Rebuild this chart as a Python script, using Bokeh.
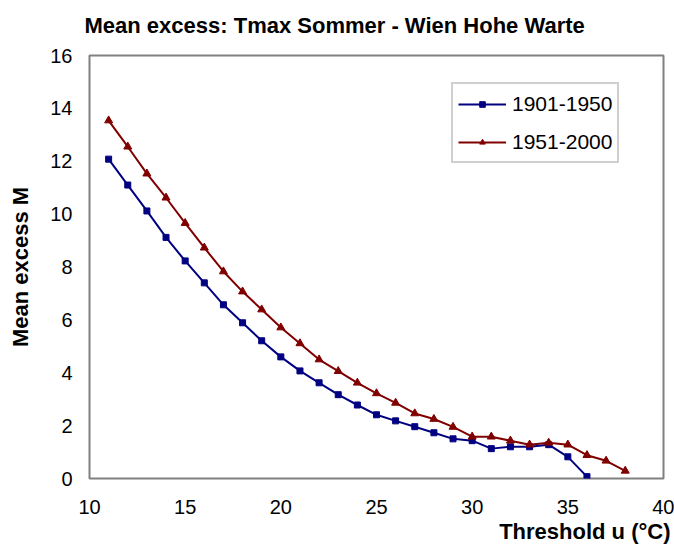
from bokeh.plotting import figure
from bokeh.models import Range1d, FixedTicker, Title, Legend, LegendItem
from bokeh.embed import file_html
from bokeh.resources import INLINE

# data
thr_1901 = list(range(11, 37))
me_1901 = [12.08, 11.10, 10.12, 9.12, 8.23, 7.40, 6.57, 5.89, 5.21, 4.60,
           4.07, 3.62, 3.17, 2.78, 2.41, 2.18, 1.96, 1.73, 1.50, 1.43,
           1.13, 1.20, 1.20, 1.28, 0.82, 0.07]
thr_1951 = list(range(11, 39))
me_1951 = [13.54, 12.55, 11.53, 10.62, 9.66, 8.73, 7.83, 7.07, 6.39, 5.71,
           5.11, 4.50, 4.06, 3.62, 3.22, 2.86, 2.46, 2.25, 1.95, 1.58,
           1.58, 1.43, 1.28, 1.35, 1.28, 0.88, 0.67, 0.29]
x_ticks = [10, 15, 20, 25, 30, 35, 40]
y_ticks = [0, 2, 4, 6, 8, 10, 12, 14, 16]
series_names = ["1901-1950", "1951-2000"]
chart_title = "Mean excess: Tmax Sommer - Wien Hohe Warte"
x_title = "Threshold u (°C)"
y_title = "Mean excess M"

FONT = "Liberation Sans"
BLUE = "#000080"
RED = "#800000"

p = figure(width=674, height=552, output_backend="svg", toolbar_location=None,
           title=None,
           x_range=Range1d(10, 40), y_range=Range1d(0, 16),
           min_border_left=89, min_border_right=11, min_border_top=55,
           min_border_bottom=74)
p.background_fill_color = "white"
p.border_fill_color = "white"
p.outline_line_color = "#808080"
p.outline_line_width = 2
p.grid.visible = False

# spacer between frame and title (closest to the frame)
spacer = Title(text=" ", text_font=FONT, text_font_size="14.5px", standoff=0)
p.add_layout(spacer, "above")
main_title = Title(text=chart_title, align="left", offset=-5, text_font=FONT,
                   text_font_size="22px", text_font_style="bold",
                   text_color="black", standoff=0)
p.add_layout(main_title, "above")

for ax in (p.xaxis[0], p.yaxis[0]):
    ax.axis_line_color = None
    ax.major_tick_line_color = None
    ax.minor_tick_line_color = None
    ax.major_tick_out = 0
    ax.major_tick_in = 0
    ax.major_label_text_font = FONT
    ax.major_label_text_font_size = "20px"
    ax.major_label_text_color = "black"

p.xaxis.ticker = FixedTicker(ticks=x_ticks)
p.yaxis.ticker = FixedTicker(ticks=y_ticks)
p.xaxis.major_label_standoff = 21
p.yaxis.major_label_standoff = 17

p.yaxis.axis_label = y_title
p.yaxis.axis_label_text_font = FONT
p.yaxis.axis_label_text_font_size = "22px"
p.yaxis.axis_label_text_font_style = "bold"
p.yaxis.axis_label_text_color = "black"
p.yaxis.axis_label_standoff = 14

xt = Title(text=x_title, align="right", offset=-7, text_font=FONT,
           text_font_size="22px", text_font_style="bold", standoff=0,
           text_color="black")
p.add_layout(xt, "below")

l1 = p.line(thr_1901, me_1901, line_color=BLUE, line_width=2)
s1 = p.scatter(thr_1901, me_1901, marker="square", size=6,
               fill_color=BLUE, line_color=BLUE)
l2 = p.line(thr_1951, me_1951, line_color=RED, line_width=2)
s2 = p.scatter(thr_1951, me_1951, marker="triangle", size=8,
               fill_color=RED, line_color=RED)

legend = Legend(items=[LegendItem(label=series_names[0], renderers=[l1, s1]),
                       LegendItem(label=series_names[1], renderers=[l2, s2])],
                location=(362, 315), orientation="vertical")
legend.label_text_font = FONT
legend.label_text_font_size = "21px"
legend.label_text_color = "black"
legend.glyph_width = 48
legend.glyph_height = 14
legend.label_height = 29
legend.label_standoff = 6
legend.spacing = 9
legend.padding = 5
legend.margin = 0
legend.border_line_color = "#a0a0a0"
legend.border_line_width = 2
legend.background_fill_color = "white"
legend.background_fill_alpha = 1
p.add_layout(legend, "center")

open("out.html", "w").write(file_html(p, INLINE))
